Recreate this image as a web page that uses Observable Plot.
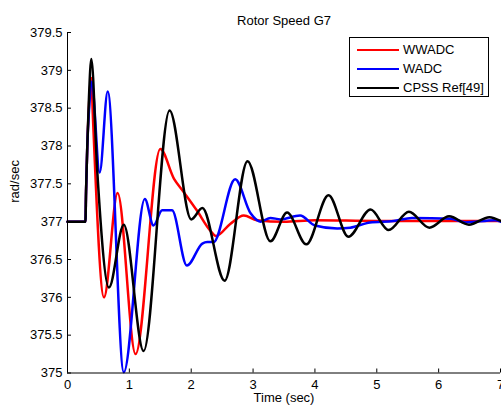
<!DOCTYPE html>
<html>
<head>
<meta charset="utf-8">
<script src="https://cdn.jsdelivr.net/npm/d3@7"></script>
<script src="https://cdn.jsdelivr.net/npm/@observablehq/plot@0.6"></script>
<style>
  html, body { margin: 0; padding: 0; background: #fff; }
  #wrap { position: relative; width: 501px; height: 412px; overflow: hidden; font-family: "Liberation Sans", Arial, sans-serif; }
  #legend { position: absolute; left: 349px; top: 37px; width: 138px; height: 58px; border: 1px solid #000; background: #fff; }
  .row { position: absolute; left: 0; height: 19px; width: 100%; }
  .swatch { position: absolute; left: 7px; width: 42px; height: 2.5px; }
  .label { position: absolute; left: 53px; font-size: 13px; color: #000; line-height: 19px; white-space: nowrap; }
</style>
</head>
<body>
<div id="wrap"></div>
<script>
// Rotor speed of generator G7 after the disturbance, three controllers
const title = "Rotor Speed G7";
const xLabel = "Time (sec)";
const yLabel = "rad/sec";
const xTicks = [0, 1, 2, 3, 4, 5, 6, 7];
const yTicks = [375, 375.5, 376, 376.5, 377, 377.5, 378, 378.5, 379, 379.5];

const seriesNames = ["WWADC", "WADC", "CPSS Ref[49]"];
const seriesColors = ["#ff0000", "#0000ff", "#000000"];

// WWADC
const wwadcT = [0, 0.29, 0.30, 0.32, 0.345, 0.385, 0.41, 0.59, 0.81, 1.10, 1.50, 1.72, 1.88, 2.09, 2.31, 2.40, 2.63, 2.85, 3.06, 3.5, 4.0, 5.0, 6.0, 7.0];
const wwadcV = [377, 377, 377.4, 378.0, 378.5, 378.9, 378.4, 376.0, 377.38, 375.25, 377.96, 377.57, 377.39, 377.15, 376.88, 376.81, 376.97, 377.08, 377.02, 377.0, 377.02, 377.01, 377.01, 377.01];

// WADC
const wadcT = [0, 0.29, 0.30, 0.32, 0.35, 0.39, 0.52, 0.65, 0.91, 1.25, 1.39, 1.53, 1.69, 1.93, 2.18, 2.26, 2.36, 2.71, 2.96, 3.12, 3.28, 3.44, 3.76, 4.0, 4.36, 4.57, 4.89, 5.27, 5.57, 6.2, 6.43, 6.91, 7.0];
const wadcV = [377, 377, 377.4, 378.0, 378.5, 378.85, 377.65, 378.72, 375.01, 377.30, 376.95, 377.15, 377.15, 376.42, 376.71, 376.73, 376.73, 377.56, 377.11, 377.0, 377.05, 377.03, 377.08, 376.95, 376.91, 376.92, 376.99, 377.01, 377.05, 377.04, 376.99, 377.02, 377.0];

// CPSS Ref[49]
const cpssT = [0, 0.29, 0.30, 0.32, 0.345, 0.385, 0.48, 0.67, 0.91, 1.23, 1.65, 2.0, 2.18, 2.54, 2.91, 3.28, 3.55, 3.86, 4.22, 4.54, 4.90, 5.19, 5.52, 5.85, 6.17, 6.49, 6.82, 7.0];
const cpssV = [377, 377, 377.4, 378.0, 378.6, 379.15, 377.68, 376.13, 376.96, 375.29, 378.47, 377.03, 377.18, 376.22, 377.80, 376.74, 377.12, 376.70, 377.35, 376.80, 377.16, 376.89, 377.13, 376.92, 377.07, 376.96, 377.06, 377.01];

const toRows = (ts, vs, name) => ts.map((t, i) => ({t, v: vs[i], name}));
const lines = [
  toRows(wwadcT, wwadcV, seriesNames[0]),
  toRows(wadcT, wadcV, seriesNames[1]),
  toRows(cpssT, cpssV, seriesNames[2])
];

const fmt = d => String(d);

const chart = Plot.plot({
  width: 501,
  height: 412,
  marginLeft: 67,
  marginRight: 1,
  marginTop: 32,
  marginBottom: 39.5,
  style: {fontFamily: "'Liberation Sans', Arial, sans-serif", fontSize: "13px", color: "#000", background: "#fff", overflow: "visible"},
  x: {domain: [xTicks[0], xTicks[xTicks.length - 1]]},
  y: {domain: [yTicks[0], yTicks[yTicks.length - 1]]},
  marks: [
    ...lines.map((rows, i) => Plot.line(rows, {x: "t", y: "v", stroke: seriesColors[i], strokeWidth: 2.5, curve: "monotone-x"})),
    // axis lines (left and bottom only)
    Plot.ruleY([yTicks[0]], {stroke: "#000", strokeWidth: 1}),
    Plot.ruleX([xTicks[0]], {stroke: "#000", strokeWidth: 1}),
    // tick labels
    Plot.axisX(xTicks, {tickSize: 0, tickPadding: 7, tickFormat: fmt, label: null, fontSize: 13}),
    Plot.axisY(yTicks, {tickSize: 0, tickPadding: 5, tickFormat: fmt, label: null, fontSize: 13}),
    // inward tick marks
    Plot.axisX(xTicks, {tickSize: 4, dy: -4, text: null, label: null, stroke: "#000"}),
    Plot.axisY(yTicks, {tickSize: 4, dx: 4, text: null, label: null, stroke: "#000"}),
    // title and axis labels
    Plot.text([title], {frameAnchor: "top", dy: -17, fontSize: 13, fill: "#000"}),
    Plot.text([xLabel], {frameAnchor: "bottom", dy: 29, fontSize: 13, fill: "#000"}),
    Plot.text([yLabel], {frameAnchor: "left", dx: -53, rotate: -90, fontSize: 13, fill: "#000"})
  ]
});

const wrap = document.getElementById("wrap");
wrap.appendChild(chart);

// legend box in the upper right of the axes
const legend = document.createElement("div");
legend.id = "legend";
seriesNames.forEach((name, i) => {
  const row = document.createElement("div");
  row.className = "row";
  row.style.top = (2 + i * 19) + "px";
  const sw = document.createElement("div");
  sw.className = "swatch";
  sw.style.background = seriesColors[i];
  sw.style.top = "8.5px";
  const lb = document.createElement("div");
  lb.className = "label";
  lb.textContent = name;
  row.appendChild(sw);
  row.appendChild(lb);
  legend.appendChild(row);
});
wrap.appendChild(legend);
</script>
</body>
</html>
